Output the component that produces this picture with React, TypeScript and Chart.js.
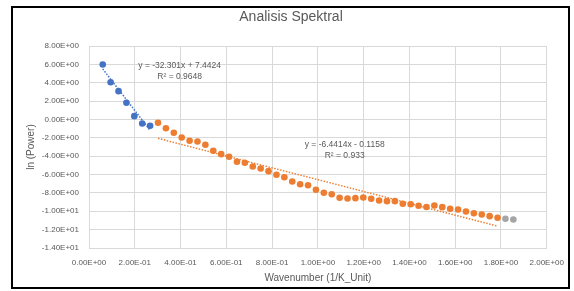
import React, { useEffect, useRef } from "react";
import { Chart, registerables } from "chart.js";

Chart.register(...registerables);

const wavenumberBlue = [0.06, 0.0945, 0.129, 0.1635, 0.198, 0.2325, 0.267];
const lnPowerBlue = [5.99, 4.06, 3.08, 1.82, 0.36, -0.44, -0.69];

const wavenumberOrange = [
  0.3015, 0.336, 0.3705, 0.405, 0.4395, 0.474, 0.5085, 0.543, 0.5775, 0.612,
  0.6465, 0.681, 0.7155, 0.75, 0.7845, 0.819, 0.8535, 0.888, 0.9225, 0.957,
  0.9915, 1.026, 1.0605, 1.095, 1.1295, 1.164, 1.1985, 1.233, 1.2675, 1.302,
  1.3365, 1.371, 1.4055, 1.44, 1.4745, 1.509, 1.5435, 1.578, 1.6125, 1.647,
  1.6815, 1.716, 1.7505, 1.785,
];
const lnPowerOrange = [
  -0.36, -0.95, -1.45, -1.96, -2.32, -2.4, -2.76, -3.41, -3.78, -4.06,
  -4.61, -4.72, -5.12, -5.34, -5.63, -6.02, -6.29, -6.75, -7.05, -7.16,
  -7.66, -7.98, -8.14, -8.53, -8.61, -8.57, -8.5, -8.64, -8.82, -8.9,
  -8.9, -9.18, -9.23, -9.4, -9.53, -9.37, -9.55, -9.73, -9.8, -10.02,
  -10.21, -10.35, -10.53, -10.71,
];

const wavenumberGrey = [1.8195, 1.854];
const lnPowerGrey = [-10.82, -10.89];

// trendline coefficients (slope, intercept) and labels
const trendSlopes = [-32.301, -6.4414];
const trendIntercepts = [7.4424, -0.1158];
const trendEquations = ["y = -32.301x + 7.4424", "y = -6.4414x - 0.1158"];
const trendR2 = ["R\u00B2 = 0.9648", "R\u00B2 = 0.933"];
// label anchors in data space (center x, first line y)
const labelAnchorX = [0.396, 1.117];
const labelAnchorY = [5.88, -2.72];

const chartTitle = "Analisis Spektral";

const xTicksMin = 0;
const xTicksMax = 2;
const xStep = 0.2;
const yTicksMin = -14;
const yTicksMax = 8;
const yStep = 2;

const BLUE = "#4472C4";
const ORANGE = "#ED7D31";
const GREY = "#A5A5A5";
const TEXT = "#595959";
const GRID = "#D9D9D9";
const FONT = "'Liberation Sans', Arial, sans-serif";

function fmtExp(v: number): string {
  if (Math.abs(v) < 1e-12) return "0.00E+00";
  const s = v.toExponential(2);
  const [m, e] = s.split("e");
  const sign = e[0] === "-" ? "-" : "+";
  const digits = e.replace(/^[+-]/, "").padStart(2, "0");
  return `${m}E${sign}${digits}`;
}

function pts(xs: number[], ys: number[]) {
  return xs.map((x, i) => ({ x, y: ys[i] }));
}

function trend(idx: number, xs: number[]) {
  const a = trendSlopes[idx];
  const b = trendIntercepts[idx];
  const x0 = xs[0];
  const x1 = xs[xs.length - 1];
  return [
    { x: x0, y: a * x0 + b },
    { x: x1, y: a * x1 + b },
  ];
}

const labelPlugin = {
  id: "trendLabels",
  afterDatasetsDraw(chart: any) {
    const { ctx, scales } = chart;
    ctx.save();
    ctx.fillStyle = TEXT;
    ctx.font = `8.5px ${FONT}`;
    ctx.textAlign = "center";
    ctx.textBaseline = "middle";
    for (let i = 0; i < trendEquations.length; i++) {
      const px = scales.x.getPixelForValue(labelAnchorX[i]);
      const py = scales.y.getPixelForValue(labelAnchorY[i]);
      ctx.fillText(trendEquations[i], px, py);
      ctx.fillText(trendR2[i], px, py + 11.5);
    }
    ctx.font = `14px ${FONT}`;
    ctx.fillText(chartTitle, 291, 17);
    ctx.restore();
  },
};

export default function App() {
  const ref = useRef<HTMLCanvasElement | null>(null);

  useEffect(() => {
    if (!ref.current) return;
    const chart = new Chart(ref.current, {
      type: "scatter",
      data: {
        datasets: [
          {
            label: "trend1",
            type: "line",
            data: trend(0, wavenumberBlue),
            borderColor: BLUE,
            borderWidth: 1.5,
            borderDash: [1.5, 1.5],
            pointRadius: 0,
            fill: false,
          },
          {
            label: "trend2",
            type: "line",
            data: trend(1, wavenumberOrange),
            borderColor: ORANGE,
            borderWidth: 1.5,
            borderDash: [1.5, 1.5],
            pointRadius: 0,
            fill: false,
          },
          {
            label: "blue",
            data: pts(wavenumberBlue, lnPowerBlue),
            backgroundColor: BLUE,
            borderColor: BLUE,
            pointRadius: 3.3,
            borderWidth: 0,
          },
          {
            label: "orange",
            data: pts(wavenumberOrange, lnPowerOrange),
            backgroundColor: ORANGE,
            borderColor: ORANGE,
            pointRadius: 3.3,
            borderWidth: 0,
          },
          {
            label: "grey",
            data: pts(wavenumberGrey, lnPowerGrey),
            backgroundColor: GREY,
            borderColor: GREY,
            pointRadius: 3.3,
            borderWidth: 0,
          },
        ],
      },
      options: {
        animation: false,
        responsive: false,
        layout: { padding: { left: 0, right: 25, top: 46, bottom: 0 } },
        plugins: {
          legend: { display: false },
          tooltip: { enabled: false },
          title: { display: false },
        },
        scales: {
          x: {
            type: "linear",
            min: xTicksMin,
            max: xTicksMax,
            afterFit: (s: any) => {
              s.height = 43;
            },
            ticks: {
              stepSize: xStep,
              autoSkip: false,
              maxRotation: 0,
              color: TEXT,
              padding: 10,
              font: { family: FONT, size: 8 },
              callback: (v: any) => fmtExp(Number(v)),
            },
            grid: { color: GRID, drawTicks: false },
            border: { color: GRID },
            title: {
              display: true,
              text: "Wavenumber (1/K_Unit)",
              color: TEXT,
              font: { family: FONT, size: 10, lineHeight: 1.2 },
              padding: { top: 0, bottom: 7 },
            },
          },
          y: {
            type: "linear",
            min: yTicksMin,
            max: yTicksMax,
            afterFit: (s: any) => {
              s.width = 89;
            },
            ticks: {
              stepSize: yStep,
              color: TEXT,
              padding: 10,
              font: { family: FONT, size: 8 },
              callback: (v: any) => fmtExp(Number(v)),
            },
            grid: { color: GRID, drawTicks: false },
            border: { color: GRID },
            title: {
              display: true,
              text: "ln (Power)",
              color: TEXT,
              font: { family: FONT, size: 10, lineHeight: 1.2 },
              padding: { top: 25, bottom: 0 },
            },
          },
        },
      },
      plugins: [labelPlugin],
    } as any);
    return () => chart.destroy();
  }, []);

  return (
    <div
      style={{
        position: "fixed",
        left: 0,
        top: 0,
        width: 574,
        height: 291,
        background: "#ffffff",
        overflow: "hidden",
      }}
    >
      <canvas
        ref={ref}
        width={574}
        height={291}
        style={{ position: "absolute", left: 0, top: 0, width: 574, height: 291 }}
      />
      <div
        style={{
          position: "absolute",
          left: 11,
          top: 6,
          width: 555,
          height: 279,
          border: "2px solid #000000",
          pointerEvents: "none",
        }}
      />
    </div>
  );
}
